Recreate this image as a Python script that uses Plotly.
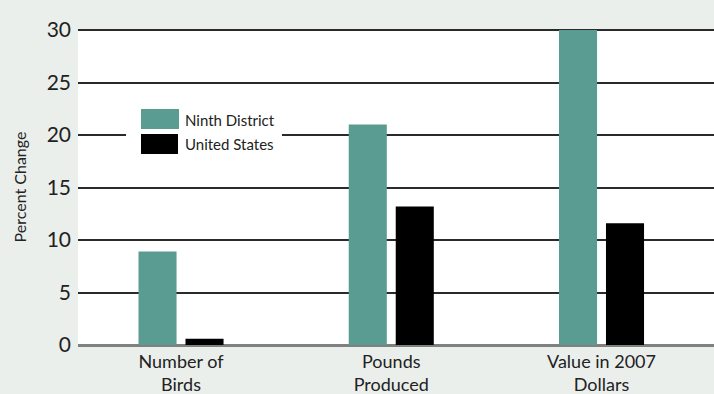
import plotly.graph_objects as go

categories = ["Number of<br>Birds", "Pounds<br>Produced", "Value in 2007<br>Dollars"]
ninth_district = [8.9, 21.0, 30.0]
united_states = [0.6, 13.2, 11.6]
y_ticks = [0, 5, 10, 15, 20, 25, 30]
series_names = ["Ninth District", "United States"]
series_colors = ["#5a9c91", "#000000"]

W, H = 714, 394
L, R, T, B = 78, 0, 29, 49
FONT = "Lato"

def px_x(px):
    return (px - L) / (W - L - R)

def px_y(py):
    return (H - B - py) / (H - T - B)

fig = go.Figure()
fig.add_trace(go.Bar(x=categories, y=ninth_district, name=series_names[0],
                     marker=dict(color=series_colors[0], line=dict(width=0))))
fig.add_trace(go.Bar(x=categories, y=united_states, name=series_names[1],
                     marker=dict(color=series_colors[1], line=dict(width=0))))

shapes = [
    dict(type="rect", xref="paper", yref="paper",
         x0=px_x(126), x1=px_x(282), y0=px_y(160), y1=px_y(104),
         fillcolor="white", line=dict(width=0), layer="above"),
    dict(type="rect", xref="paper", yref="paper",
         x0=px_x(141), x1=px_x(179), y0=px_y(129), y1=px_y(109),
         fillcolor=series_colors[0], line=dict(width=0), layer="above"),
    dict(type="rect", xref="paper", yref="paper",
         x0=px_x(141), x1=px_x(178), y0=px_y(154), y1=px_y(134),
         fillcolor=series_colors[1], line=dict(width=0), layer="above"),
]
annotations = [
    dict(text=series_names[0], xref="paper", yref="paper", x=px_x(183), y=px_y(120),
         xanchor="left", yanchor="middle", showarrow=False,
         font=dict(family=FONT, size=15, color="#222")),
    dict(text=series_names[1], xref="paper", yref="paper", x=px_x(183), y=px_y(144),
         xanchor="left", yanchor="middle", showarrow=False,
         font=dict(family=FONT, size=15, color="#222")),
]

fig.update_layout(
    width=W, height=H,
    margin=dict(l=L, r=R, t=T, b=B),
    paper_bgcolor="#ebefec",
    plot_bgcolor="white",
    barmode="group",
    bargap=0.553,
    bargroupgap=0.19,
    showlegend=False,
    shapes=shapes,
    annotations=annotations,
    font=dict(family=FONT, color="#222"),
)
fig.update_xaxes(range=[-0.49, 2.535], showgrid=False, showline=False, ticks="",
                 ticklabelstandoff=4,
                 tickfont=dict(family=FONT, size=18, color="#222"), fixedrange=True)
fig.update_yaxes(range=[0, 30.1], tickvals=y_ticks, showgrid=True, gridcolor="#2a2a2a",
                 gridwidth=1.5, zeroline=True, zerolinecolor="#808080", zerolinewidth=2.5,
                 showline=False, ticks="", ticklabelstandoff=6,
                 tickfont=dict(family=FONT, size=21, color="#222"),
                 title=dict(text="Percent Change", standoff=16,
                            font=dict(family=FONT, size=16, color="#222")))

fig.write_html("out.html")
